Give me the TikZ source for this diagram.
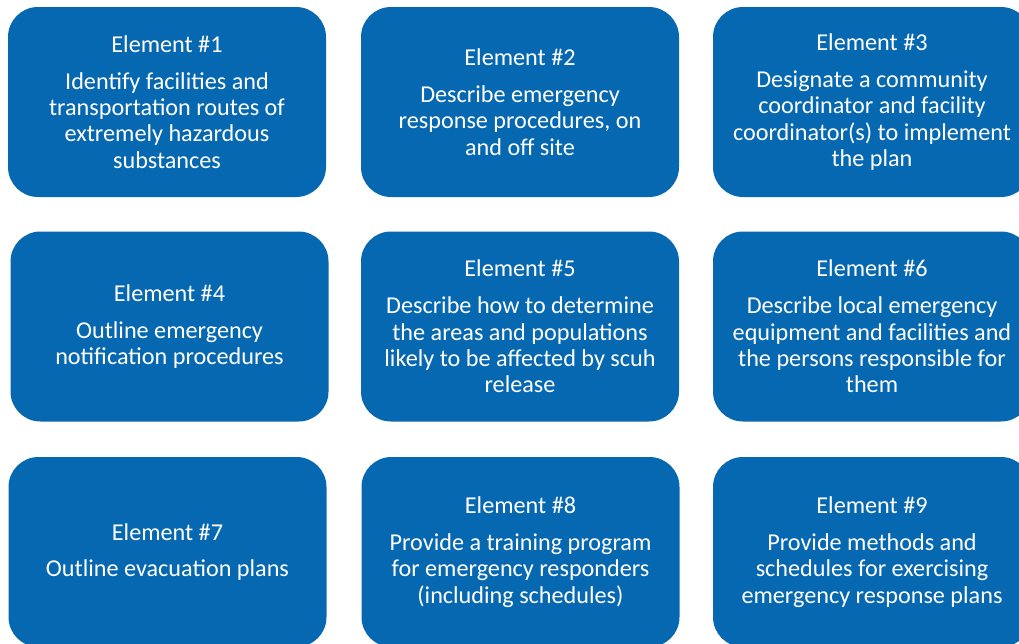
\documentclass[tikz,border=0pt]{standalone}
\usepackage{fontspec}
\setmainfont{Carlito}
\definecolor{elemblue}{RGB}{7,104,178}
\begin{document}
\begin{tikzpicture}[
				x=1pt,
				y=-1pt,
				every node/.style={rectangle,rounded corners=30pt,fill=elemblue,
					text=white,align=center,inner sep=0pt,
					minimum width=318pt,minimum height=190pt,
					font=\fontsize{24.2}{26.3}\selectfont}
			]
			\useasboundingbox (0,0) rectangle (1019,643);

			\node (e1) at (167,102)		{Element \#1\\[10.5pt]Identify facilities and\\transportation routes of\\extremely hazardous\\substances};
			\node (e2) at (520,102)		{Element \#2\\[10.5pt]Describe emergency\\response procedures, on\\and off site};
			\node (e3) at (872,102)		{Element \#3\\[10.5pt]Designate a community\\coordinator and facility\\coordinator(s) to implement\\the plan};
			\node (e4) at (169.5,326.5)	{Element \#4\\[10.5pt]Outline emergency\\notification procedures};
			\node (e5) at (520,326.5)	{Element \#5\\[10.5pt]Describe how to determine\\the areas and populations\\likely to be affected by scuh\\release};
			\node (e6) at (872,326.5)	{Element \#6\\[10.5pt]Describe local emergency\\equipment and facilities and\\the persons responsible for\\them};
			\node (e7) at (167.5,552)	{Element \#7\\[10.5pt]Outline evacuation plans};
			\node (e8) at (520.5,552)	{Element \#8\\[10.5pt]Provide a training program\\for emergency responders\\(including schedules)};
			\node (e9) at (872,552)		{Element \#9\\[10.5pt]Provide methods and\\schedules for exercising\\emergency response plans};

		\end{tikzpicture}
\end{document}
